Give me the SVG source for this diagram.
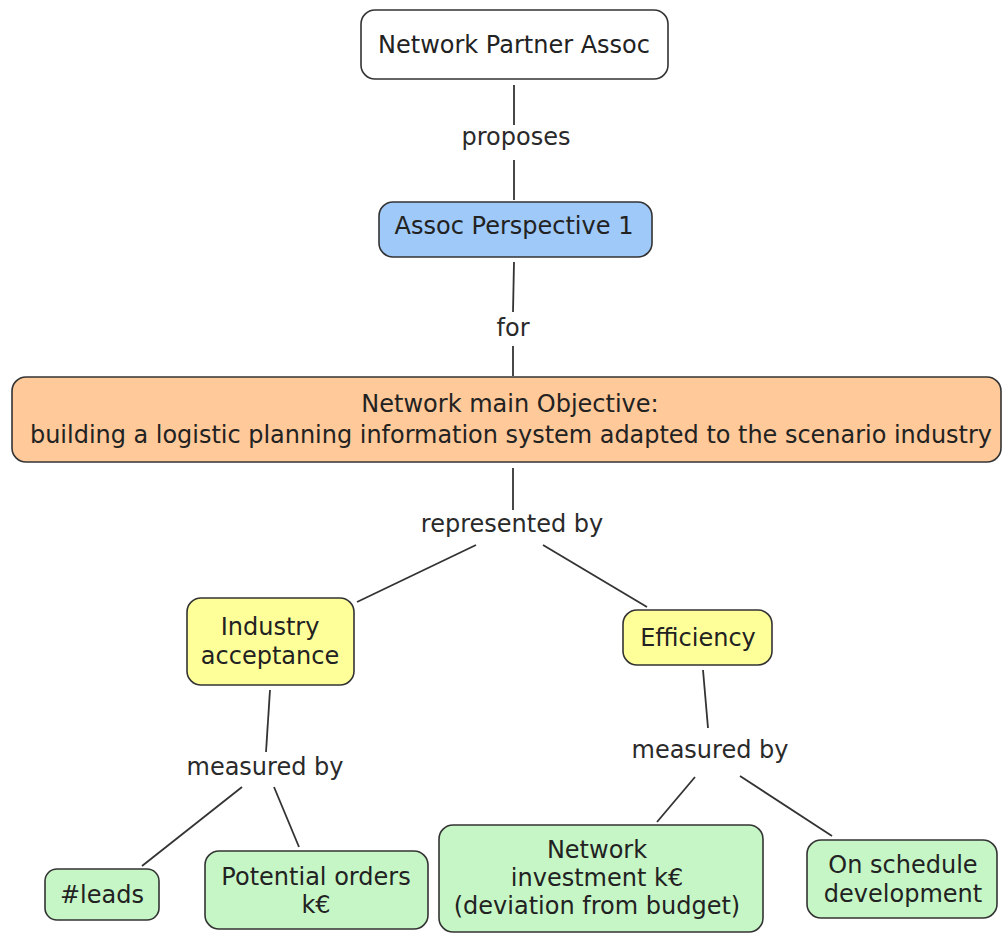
<svg xmlns="http://www.w3.org/2000/svg" width="1003" height="936" viewBox="0 0 1003 936">
  <style>
    text { font-family: "DejaVu Sans", Verdana, sans-serif; font-size: 24px; fill: #222; text-anchor: middle; }
    .box { stroke: #333; stroke-width: 1.6; }
    .plain { fill: #ffffff; }
    .blue { fill: #9ec9f8; }
    .peach { fill: #ffc999; }
    .yellow { fill: #ffff99; }
    .green { fill: #c6f6c6; }
    .lbl { fill: #2a2a2a; }
    #connectors line { stroke: #333; stroke-width: 1.8; }
  </style>

  <rect width="1003" height="936" fill="#ffffff"/>

  <g id="connectors">
    <line x1="514" y1="85" x2="514" y2="125"/>
    <line x1="514" y1="160" x2="514" y2="200"/>
    <line x1="514" y1="262" x2="513" y2="312"/>
    <line x1="513" y1="346" x2="513" y2="376"/>
    <line x1="513" y1="468" x2="513" y2="510"/>
    <line x1="476" y1="545" x2="357" y2="602"/>
    <line x1="543" y1="545" x2="647" y2="607"/>
    <line x1="270" y1="690" x2="266" y2="752"/>
    <line x1="242" y1="787" x2="142" y2="866"/>
    <line x1="274" y1="787" x2="299" y2="847"/>
    <line x1="703" y1="670" x2="708" y2="728"/>
    <line x1="695" y1="777" x2="657" y2="822"/>
    <line x1="740" y1="776" x2="832" y2="836"/>
  </g>

  <g id="link-labels">
    <text class="lbl" x="516" y="145">proposes</text>
    <text class="lbl" x="513" y="336">for</text>
    <text class="lbl" x="512" y="532">represented by</text>
    <text class="lbl" x="265" y="775">measured by</text>
    <text class="lbl" x="710" y="758">measured by</text>
  </g>

  <g id="network-partner-assoc">
    <rect class="box plain" x="361" y="10" width="307" height="69" rx="14"/>
    <text x="514" y="53">Network Partner Assoc</text>
  </g>

  <g id="assoc-perspective-1">
    <rect class="box blue" x="379" y="202" width="273" height="55" rx="14"/>
    <text x="514" y="234">Assoc Perspective 1</text>
  </g>

  <g id="main-objective">
    <rect class="box peach" x="12" y="377" width="989" height="85" rx="14"/>
    <text x="510" y="412">Network main Objective:</text>
    <text x="511" y="443" textLength="962" lengthAdjust="spacingAndGlyphs">building a logistic planning information system adapted to the scenario industry</text>
  </g>

  <g id="industry-acceptance">
    <rect class="box yellow" x="187" y="598" width="167" height="87" rx="14"/>
    <text x="270" y="635">Industry</text>
    <text x="270" y="664">acceptance</text>
  </g>

  <g id="efficiency">
    <rect class="box yellow" x="623" y="610" width="149" height="55" rx="14"/>
    <text x="698" y="646">Efficiency</text>
  </g>

  <g id="leads">
    <rect class="box green" x="45" y="869" width="114" height="51" rx="12"/>
    <text x="102" y="903">#leads</text>
  </g>

  <g id="potential-orders">
    <rect class="box green" x="205" y="851" width="223" height="78" rx="14"/>
    <text x="316" y="885">Potential orders</text>
    <text x="316" y="913">k€</text>
  </g>

  <g id="network-investment">
    <rect class="box green" x="439" y="825" width="324" height="107" rx="14"/>
    <text x="597" y="858">Network</text>
    <text x="597" y="886">investment k€</text>
    <text x="597" y="914">(deviation from budget)</text>
  </g>

  <g id="on-schedule">
    <rect class="box green" x="807" y="840" width="190" height="78" rx="14"/>
    <text x="903" y="873">On schedule</text>
    <text x="903" y="902">development</text>
  </g>
</svg>
